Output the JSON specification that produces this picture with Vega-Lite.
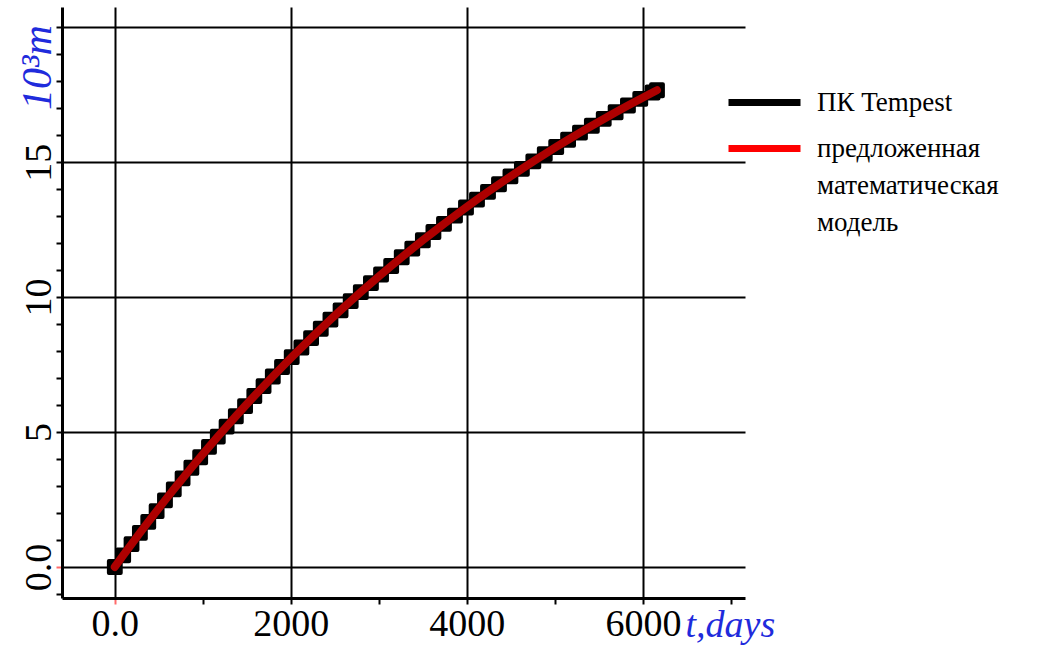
{
  "$schema": "https://vega.github.io/schema/vega-lite/v6.json",
  "width": 683,
  "height": 591,
  "autosize": {"type": "none"},
  "padding": {"left": 62, "top": 7, "right": 297, "bottom": 48},
  "background": "white",
  "config": {
    "view": {"stroke": null},
    "font": "Liberation Serif",
    "axis": {"domainColor": "black", "domainWidth": 3, "gridColor": "black", "gridWidth": 2, "tickWidth": 2, "labelFont": "Liberation Serif", "titleFont": "Liberation Serif"},
    "legend": {"labelFont": "Liberation Serif"}
  },
  "data": {
    "values": [
      {"t": 0, "tempest": 0, "model": 0},
      {"t": 95, "tempest": 0.427, "model": 0.427},
      {"t": 190, "tempest": 0.848, "model": 0.848},
      {"t": 285, "tempest": 1.262, "model": 1.262},
      {"t": 380, "tempest": 1.670, "model": 1.670},
      {"t": 475, "tempest": 2.071, "model": 2.071},
      {"t": 570, "tempest": 2.467, "model": 2.467},
      {"t": 670, "tempest": 2.877, "model": 2.877},
      {"t": 770, "tempest": 3.280, "model": 3.280},
      {"t": 870, "tempest": 3.677, "model": 3.677},
      {"t": 970, "tempest": 4.067, "model": 4.067},
      {"t": 1070, "tempest": 4.451, "model": 4.451},
      {"t": 1170, "tempest": 4.829, "model": 4.829},
      {"t": 1270, "tempest": 5.201, "model": 5.201},
      {"t": 1375, "tempest": 5.585, "model": 5.585},
      {"t": 1480, "tempest": 5.963, "model": 5.963},
      {"t": 1585, "tempest": 6.334, "model": 6.334},
      {"t": 1690, "tempest": 6.699, "model": 6.699},
      {"t": 1795, "tempest": 7.058, "model": 7.058},
      {"t": 1900, "tempest": 7.411, "model": 7.411},
      {"t": 2010, "tempest": 7.774, "model": 7.774},
      {"t": 2120, "tempest": 8.131, "model": 8.131},
      {"t": 2230, "tempest": 8.481, "model": 8.481},
      {"t": 2340, "tempest": 8.826, "model": 8.826},
      {"t": 2450, "tempest": 9.164, "model": 9.164},
      {"t": 2565, "tempest": 9.511, "model": 9.511},
      {"t": 2680, "tempest": 9.852, "model": 9.852},
      {"t": 2795, "tempest": 10.187, "model": 10.187},
      {"t": 2910, "tempest": 10.515, "model": 10.515},
      {"t": 3025, "tempest": 10.838, "model": 10.838},
      {"t": 3140, "tempest": 11.154, "model": 11.154},
      {"t": 3260, "tempest": 11.478, "model": 11.478},
      {"t": 3380, "tempest": 11.796, "model": 11.796},
      {"t": 3500, "tempest": 12.107, "model": 12.107},
      {"t": 3620, "tempest": 12.413, "model": 12.413},
      {"t": 3740, "tempest": 12.713, "model": 12.713},
      {"t": 3865, "tempest": 13.019, "model": 13.019},
      {"t": 3990, "tempest": 13.319, "model": 13.319},
      {"t": 4115, "tempest": 13.613, "model": 13.613},
      {"t": 4240, "tempest": 13.901, "model": 13.901},
      {"t": 4365, "tempest": 14.183, "model": 14.183},
      {"t": 4495, "tempest": 14.471, "model": 14.471},
      {"t": 4625, "tempest": 14.753, "model": 14.753},
      {"t": 4755, "tempest": 15.028, "model": 15.028},
      {"t": 4885, "tempest": 15.298, "model": 15.298},
      {"t": 5015, "tempest": 15.563, "model": 15.563},
      {"t": 5150, "tempest": 15.831, "model": 15.831},
      {"t": 5285, "tempest": 16.094, "model": 16.094},
      {"t": 5420, "tempest": 16.351, "model": 16.351},
      {"t": 5555, "tempest": 16.603, "model": 16.603},
      {"t": 5690, "tempest": 16.849, "model": 16.849},
      {"t": 5830, "tempest": 17.099, "model": 17.099},
      {"t": 5970, "tempest": 17.343, "model": 17.343},
      {"t": 6110, "tempest": 17.582, "model": 17.582},
      {"t": 6160, "tempest": 17.666, "model": 17.666}
    ]
  },
  "transform": [{"fold": ["tempest", "model"], "as": ["series", "y"]}],
  "encoding": {
    "x": {
      "field": "t", "type": "quantitative",
      "scale": {"domain": [-600, 7160], "nice": false, "zero": false},
      "axis": {
        "values": [0, 1000, 2000, 3000, 4000, 5000, 6000, 7000],
        "labelExpr": "datum.value == 0 ? '0.0' : (datum.value % 2000 == 0 ? '' + datum.value : '')",
        "labelFontSize": 38,
        "labelBaseline": "alphabetic",
        "labelPadding": 31,
        "labelColor": "black",
        "tickSize": 6,
        "tickColor": {"condition": {"test": "datum.value == 0", "value": "#ff6b6b"}, "value": "black"},
        "gridOpacity": {"condition": {"test": "datum.value % 2000 == 0", "value": 1}, "value": 0},
        "title": "t,days",
        "titleColor": "#1f2bdc",
        "titleFontStyle": "italic",
        "titleFontWeight": "normal",
        "titleFontSize": 38,
        "titleAlign": "left",
        "titleBaseline": "alphabetic",
        "titleX": 623,
        "titleY": 38
      }
    },
    "y": {
      "field": "y", "type": "quantitative",
      "scale": {"domain": [-1.15, 20.75], "nice": false, "zero": false},
      "axis": {
        "values": [-1, 0, 1, 2, 3, 4, 5, 6, 7, 8, 9, 10, 11, 12, 13, 14, 15, 16, 17, 18, 19, 20],
        "labelExpr": "datum.value == 0 ? '0.0' : ((datum.value % 5 == 0 && datum.value < 20) ? '' + datum.value : '')",
        "labelFontSize": 38,
        "labelAngle": 270,
        "labelAlign": "center",
        "labelBaseline": "alphabetic",
        "labelPadding": 6,
        "labelColor": "black",
        "tickSize": 6,
        "tickColor": {"condition": {"test": "datum.value == 0", "value": "#ff6b6b"}, "value": "black"},
        "gridOpacity": {"condition": {"test": "datum.value % 5 == 0 && datum.value >= 0", "value": 1}, "value": 0},
        "title": "10³m",
        "titleColor": "#1f2bdc",
        "titleFontStyle": "italic",
        "titleFontWeight": "normal",
        "titleFontSize": 42,
        "titleAngle": 270,
        "titleAlign": "center",
        "titleBaseline": "alphabetic",
        "titleX": -12,
        "titleY": 60
      }
    }
  },
  "layer": [
    {
      "transform": [{"filter": "datum.series == 'tempest'"}],
      "mark": {"type": "point", "shape": "square", "filled": true, "size": 140, "color": "black", "stroke": "black", "strokeWidth": 4, "strokeJoin": "round", "opacity": 1}
    },
    {
      "transform": [{"filter": "datum.series == 'model'"}],
      "mark": {"type": "line", "strokeWidth": 8, "strokeCap": "round", "opacity": 0.68},
      "encoding": {
        "color": {
          "field": "series", "type": "nominal",
          "scale": {"domain": ["tempest", "model"], "range": ["black", "#ff0000"]},
          "legend": {
            "title": null,
            "orient": "none",
            "legendX": 679,
            "legendY": 72,
            "symbolType": "M-1.8,0H1.8",
            "symbolSize": 1600,
            "symbolStrokeWidth": 7,
            "symbolOpacity": 1,
            "symbolFillColor": "transparent",
            "labelFont": "Liberation Serif",
            "labelFontSize": 27,
            "labelLimit": 0,
            "labelOffset": 29,
            "labelColor": "black",
            "rowPadding": 8,
            "labelExpr": "datum.value == 'model' ? ['предложенная', 'математическая', 'модель'] : 'ПК Tempest'",
            "encode": {"labels": {"update": {"lineHeight": {"value": 37}}}}
          }
        }
      }
    }
  ]
}
